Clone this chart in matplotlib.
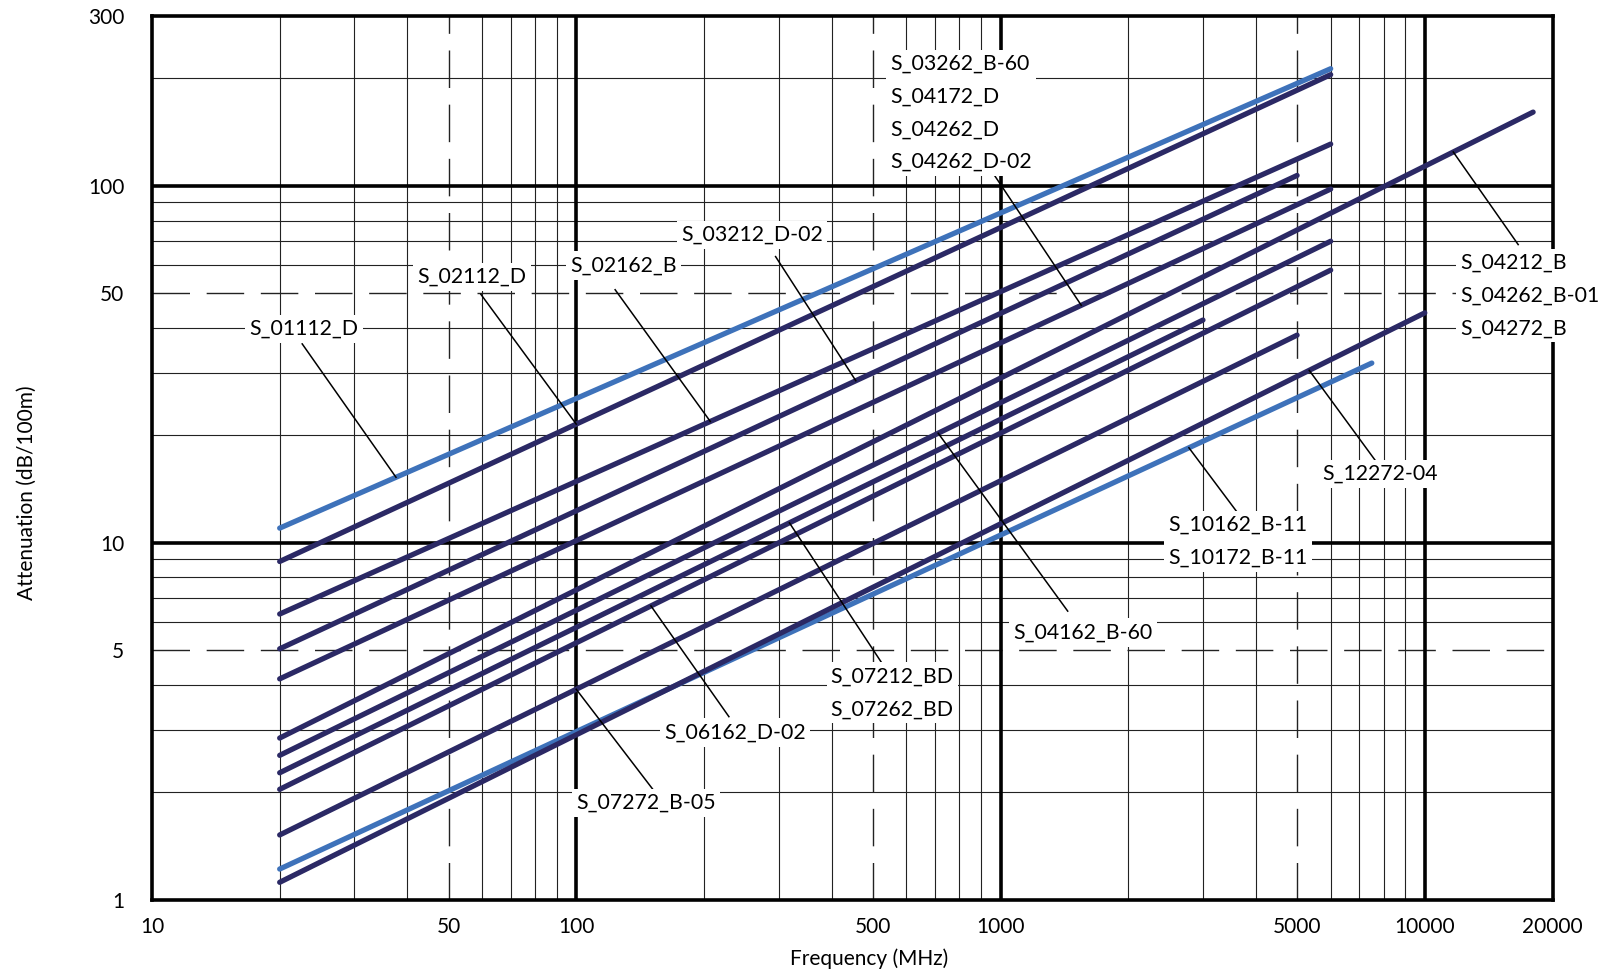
import numpy as np
import matplotlib
matplotlib.use('Agg')
import matplotlib.pyplot as plt

plt.rcParams['font.family'] = ['Lato', 'DejaVu Sans']

# attenuation curves (start at 20 MHz)
f_start = [20, 20, 20, 20, 20, 20, 20, 20, 20, 20, 20, 20]
a_start = [11.0, 8.87, 6.32, 5.05, 4.16, 2.84, 2.54, 2.27, 2.04, 1.52, 1.22, 1.12]
f_end = [6000, 6000, 6000, 5000, 6000, 18000, 6000, 3000, 6000, 5000, 7500, 10000]
a_end = [213, 205, 131, 107, 98, 161, 70, 42.1, 58.1, 38.2, 31.9, 44.1]
light_lines = [0, 10]

x_ticks = [10, 50, 100, 500, 1000, 5000, 10000, 20000]
y_ticks = [1, 5, 10, 50, 100, 300]

# label text, line it points to, frequency on that line
label_names = ['S_01112_D', 'S_02112_D', 'S_02162_B', 'S_03212_D-02',
               'S_03262_B-60\n\nS_04172_D\n\nS_04262_D\n\nS_04262_D-02',
               'S_04212_B\n\nS_04262_B-01\n\nS_04272_B',
               'S_12272-04', 'S_10162_B-11\n\nS_10172_B-11', 'S_04162_B-60',
               'S_07212_BD\n\nS_07262_BD', 'S_06162_D-02', 'S_07272_B-05']
label_line = [0, 1, 2, 3, 4, 5, 11, 10, 6, 7, 8, 9]
label_hit_f = [37.6, 100, 207, 456, 1550, 11670, 5340, 2780, 713, 318, 150, 100]

# layout of the labels (data coords)
label_pos = [(17.0, 39.7), (42.2, 55.6), (96.7, 59.8), (177, 72.9),
             (550, 160), (12140, 49.3), (5720, 15.6), (2490, 10.1),
             (1072, 5.61), (398, 3.8), (161, 2.94), (100, 1.87)]
leader_start = [(22.6, 36.1), (59.6, 49.7), (123.5, 51.2), (295, 63.4),
                (965, 107.6), (16600, 68.5), (7650, 17.0), (3610, 12.2),
                (1440, 6.44), (525, 4.61), (229, 3.26), (153, 2.01)]

dark = '#2b2965'
light = '#3e72ba'
dash = (0, (27, 12))

fig = plt.figure(figsize=(16.08, 9.76), dpi=100)
ax = fig.add_axes([0.0945, 0.078, 0.871, 0.906])
ax.set_xscale('log')
ax.set_yscale('log')
ax.set_xlim(10, 20000)
ax.set_ylim(1, 300)

# grid: thin minor, dashed at the 5s, thick at the decades
for dec in [10, 100, 1000]:
    for m in range(2, 10):
        if m == 5:
            ax.axvline(dec * m, color='#222222', lw=1.0, ls=dash, zorder=1)
        else:
            ax.axvline(dec * m, color='#222222', lw=0.8, zorder=1)
for dec in [1, 10, 100]:
    for m in range(2, 10):
        if dec * m >= 300:
            continue
        if m == 5:
            ax.axhline(dec * m, color='#222222', lw=1.0, ls=dash, zorder=1)
        else:
            ax.axhline(dec * m, color='#222222', lw=0.8, zorder=1)
for v in [100, 1000, 10000]:
    ax.axvline(v, color='black', lw=2.6, zorder=1.5)
for v in [10, 100]:
    ax.axhline(v, color='black', lw=2.6, zorder=1.5)

# the curves
for i in range(len(a_start)):
    c = light if i in light_lines else dark
    ax.plot([f_start[i], f_end[i]], [a_start[i], a_end[i]], color=c, lw=3.8,
            solid_capstyle='round', zorder=3)

# labels with leader lines
for i, name in enumerate(label_names):
    k = label_line[i]
    fx = label_hit_f[i]
    lf = np.log10([f_start[k], f_end[k]])
    la = np.log10([a_start[k], a_end[k]])
    ay = 10 ** np.interp(np.log10(fx), lf, la)
    sx, sy = leader_start[i]
    ax.plot([sx, fx], [sy, ay], color='black', lw=1.1, zorder=4)
    tx, ty = label_pos[i]
    ax.text(tx, ty, name, ha='left', va='center', fontsize=15.3, linespacing=0.77,
            zorder=6, clip_on=False,
            bbox=dict(facecolor='white', edgecolor='none', pad=3))

for s in ax.spines.values():
    s.set_linewidth(2.6)
    s.set_zorder(5)

ax.set_xticks(x_ticks)
ax.set_xticklabels([str(v) for v in x_ticks])
ax.set_yticks(y_ticks)
ax.set_yticklabels([str(v) for v in y_ticks])
ax.minorticks_off()
ax.tick_params(axis='both', length=0, labelsize=15)
ax.tick_params(axis='x', pad=12)
ax.tick_params(axis='y', pad=20)

ax.set_xlabel('Frequency (MHz)', fontsize=15)
ax.set_ylabel('Attenuation (dB/100m)', fontsize=15)
ax.xaxis.set_label_coords(0.512, -0.055)
ax.yaxis.set_label_coords(-0.082, 0.46)

fig.savefig('out.png', dpi=100)
